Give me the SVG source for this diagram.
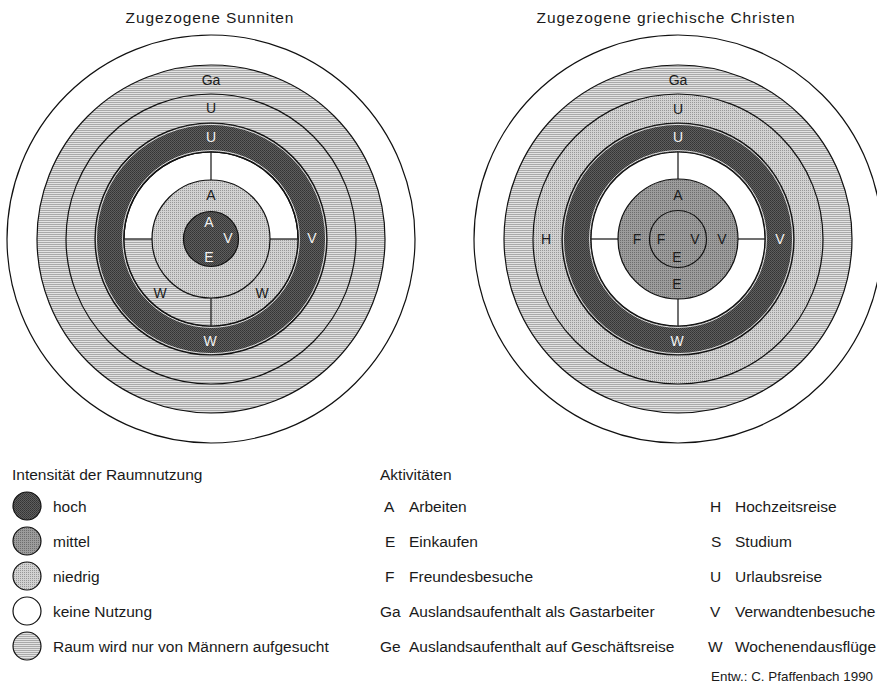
<svg xmlns="http://www.w3.org/2000/svg" width="877" height="685" viewBox="0 0 877 685">
  <defs>
    <!-- screen-like tones for the four intensity classes -->
    <pattern id="hoch" width="2" height="2" patternUnits="userSpaceOnUse">
      <rect width="2" height="2" fill="#5e5e5e"/>
      <rect width="1" height="1" fill="#343434"/>
      <rect x="1" y="1" width="1" height="1" fill="#3e3e3e"/>
    </pattern>
    <pattern id="mittel" width="2" height="2" patternUnits="userSpaceOnUse">
      <rect width="2" height="2" fill="#9c9c9c"/>
      <rect width="1" height="1" fill="#6e6e6e"/>
    </pattern>
    <pattern id="niedrig" width="2" height="2" patternUnits="userSpaceOnUse">
      <rect width="2" height="2" fill="#d2d2d2"/>
      <rect width="1" height="1" fill="#989898"/>
    </pattern>
    <pattern id="maenner" width="3" height="2" patternUnits="userSpaceOnUse">
      <rect width="3" height="2" fill="#e2e2e2"/>
      <rect width="3" height="1" fill="#a9a9a9"/>
    </pattern>
  </defs>
  <style>
    text { font-family: "Liberation Sans", Arial, sans-serif; fill: #1a1a1a; }
    .title { font-size: 15.5px; letter-spacing: 0.9px; text-anchor: middle; }
    .lbl { font-size: 14px; text-anchor: middle; }
    .lbl-w { font-size: 14px; text-anchor: middle; fill: #f2f2f2; }
    .leg { font-size: 15.5px; }
    .note { font-size: 13.4px; }
    .ring { stroke: #111; stroke-width: 1.2; }
    .edge { fill: none; stroke: #f4f4f4; stroke-width: 0.9; }
    .div { stroke: #111; stroke-width: 1.2; }
  </style>

  <rect width="877" height="685" fill="#ffffff"/>

  <!-- titles -->
  <text class="title" x="210" y="23">Zugezogene Sunniten</text>
  <text class="title" x="666" y="23">Zugezogene griechische Christen</text>

  <!-- Sunniten: concentric zones around the home -->
  <g id="sunniten">
    <circle class="ring" cx="211" cy="239" r="204" fill="#ffffff"/>
    <circle class="ring" cx="211" cy="239" r="174" fill="url(#maenner)"/>
    <circle class="ring" cx="211" cy="239" r="145" fill="url(#maenner)"/>
    <circle class="ring" cx="211" cy="239" r="116" fill="url(#hoch)"/>
    <circle class="edge" cx="211" cy="239" r="114.6"/>
    <circle class="ring" cx="211" cy="239" r="87" fill="#ffffff"/>
    <!-- lower quadrants of the inner white ring -->
    <path d="M124,239 A87,87 0 0 0 211,326 L211,298 A59,59 0 0 1 152,239 Z" fill="url(#maenner)"/>
    <path d="M211,326 A87,87 0 0 0 298,239 L270,239 A59,59 0 0 1 211,298 Z" fill="url(#niedrig)"/>
    <circle class="edge" cx="211" cy="239" r="88.4"/>
    <circle fill="none" class="ring" cx="211" cy="239" r="87"/>
    <circle class="ring" cx="211" cy="239" r="59" fill="url(#niedrig)"/>
    <circle class="ring" cx="211" cy="239" r="27.5" fill="url(#hoch)"/>
    <line class="div" x1="211" y1="152" x2="211" y2="180"/>
    <line class="div" x1="211" y1="298" x2="211" y2="326"/>
    <line class="div" x1="124" y1="239" x2="152" y2="239"/>
    <line class="div" x1="270" y1="239" x2="298" y2="239"/>

    <text class="lbl" x="211" y="85">Ga</text>
    <text class="lbl" x="211" y="113">U</text>
    <text class="lbl-w" x="211" y="142">U</text>
    <text class="lbl" x="211" y="200">A</text>
    <text class="lbl-w" x="209" y="227">A</text>
    <text class="lbl-w" x="228" y="243">V</text>
    <text class="lbl-w" x="209" y="262">E</text>
    <text class="lbl-w" x="312" y="243">V</text>
    <text class="lbl" x="160" y="298">W</text>
    <text class="lbl" x="262" y="298">W</text>
    <text class="lbl-w" x="210" y="346">W</text>
  </g>

  <!-- griechische Christen -->
  <g id="christen">
    <circle class="ring" cx="678" cy="239" r="204" fill="#ffffff"/>
    <circle class="ring" cx="678" cy="239" r="174" fill="url(#maenner)"/>
    <circle class="ring" cx="678" cy="239" r="145" fill="url(#niedrig)"/>
    <circle class="ring" cx="678" cy="239" r="116" fill="url(#hoch)"/>
    <circle class="edge" cx="678" cy="239" r="114.6"/>
    <circle class="edge" cx="678" cy="239" r="88.4"/>
    <circle class="ring" cx="678" cy="239" r="87" fill="#ffffff"/>
    <circle class="ring" cx="678" cy="239" r="60" fill="url(#mittel)"/>
    <circle class="ring" cx="678" cy="239" r="28.5" fill="url(#mittel)"/>
    <line class="div" x1="678" y1="152" x2="678" y2="179"/>
    <line class="div" x1="678" y1="299" x2="678" y2="326"/>
    <line class="div" x1="591" y1="239" x2="618" y2="239"/>
    <line class="div" x1="738" y1="239" x2="765" y2="239"/>

    <text class="lbl" x="678" y="85">Ga</text>
    <text class="lbl" x="678" y="114">U</text>
    <text class="lbl-w" x="678" y="142">U</text>
    <text class="lbl" x="546" y="244">H</text>
    <text class="lbl" x="678" y="200">A</text>
    <text class="lbl" x="637" y="244">F</text>
    <text class="lbl" x="661" y="244">F</text>
    <text class="lbl" x="695" y="244">V</text>
    <text class="lbl" x="722" y="244">V</text>
    <text class="lbl" x="677" y="262">E</text>
    <text class="lbl" x="677" y="289">E</text>
    <text class="lbl-w" x="780" y="244">V</text>
    <text class="lbl-w" x="677" y="346">W</text>
  </g>

  <!-- legend: intensity of use -->
  <g id="legend-intensitaet">
    <text class="leg" x="12" y="480">Intensität der Raumnutzung</text>
    <circle class="ring" cx="27" cy="506" r="14" fill="url(#hoch)"/>
    <text class="leg" x="53" y="512">hoch</text>
    <circle class="ring" cx="27" cy="541" r="14" fill="url(#mittel)"/>
    <text class="leg" x="53" y="547">mittel</text>
    <circle class="ring" cx="27" cy="576" r="14" fill="url(#niedrig)"/>
    <text class="leg" x="53" y="582">niedrig</text>
    <circle class="ring" cx="27" cy="611" r="14" fill="#ffffff"/>
    <text class="leg" x="53" y="617">keine Nutzung</text>
    <circle class="ring" cx="27" cy="646" r="14" fill="url(#maenner)"/>
    <text class="leg" x="53" y="652">Raum wird nur von Männern aufgesucht</text>
  </g>

  <!-- legend: activities -->
  <g id="legend-aktivitaeten">
    <text class="leg" x="380" y="480">Aktivitäten</text>
    <text class="leg" x="384" y="512">A</text>
    <text class="leg" x="409" y="512">Arbeiten</text>
    <text class="leg" x="385" y="547">E</text>
    <text class="leg" x="409" y="547">Einkaufen</text>
    <text class="leg" x="385" y="582">F</text>
    <text class="leg" x="409" y="582">Freundesbesuche</text>
    <text class="leg" x="380" y="617">Ga</text>
    <text class="leg" x="409" y="617">Auslandsaufenthalt als Gastarbeiter</text>
    <text class="leg" x="380" y="652">Ge</text>
    <text class="leg" x="409" y="652">Auslandsaufenthalt auf Geschäftsreise</text>

    <text class="leg" x="710" y="512">H</text>
    <text class="leg" x="735" y="512">Hochzeitsreise</text>
    <text class="leg" x="711" y="547">S</text>
    <text class="leg" x="735" y="547">Studium</text>
    <text class="leg" x="710" y="582">U</text>
    <text class="leg" x="735" y="582">Urlaubsreise</text>
    <text class="leg" x="710" y="617">V</text>
    <text class="leg" x="735" y="617">Verwandtenbesuche</text>
    <text class="leg" x="708" y="652">W</text>
    <text class="leg" x="735" y="652">Wochenendausflüge</text>

    <text class="note" x="711" y="681">Entw.: C. Pfaffenbach 1990</text>
  </g>
</svg>
